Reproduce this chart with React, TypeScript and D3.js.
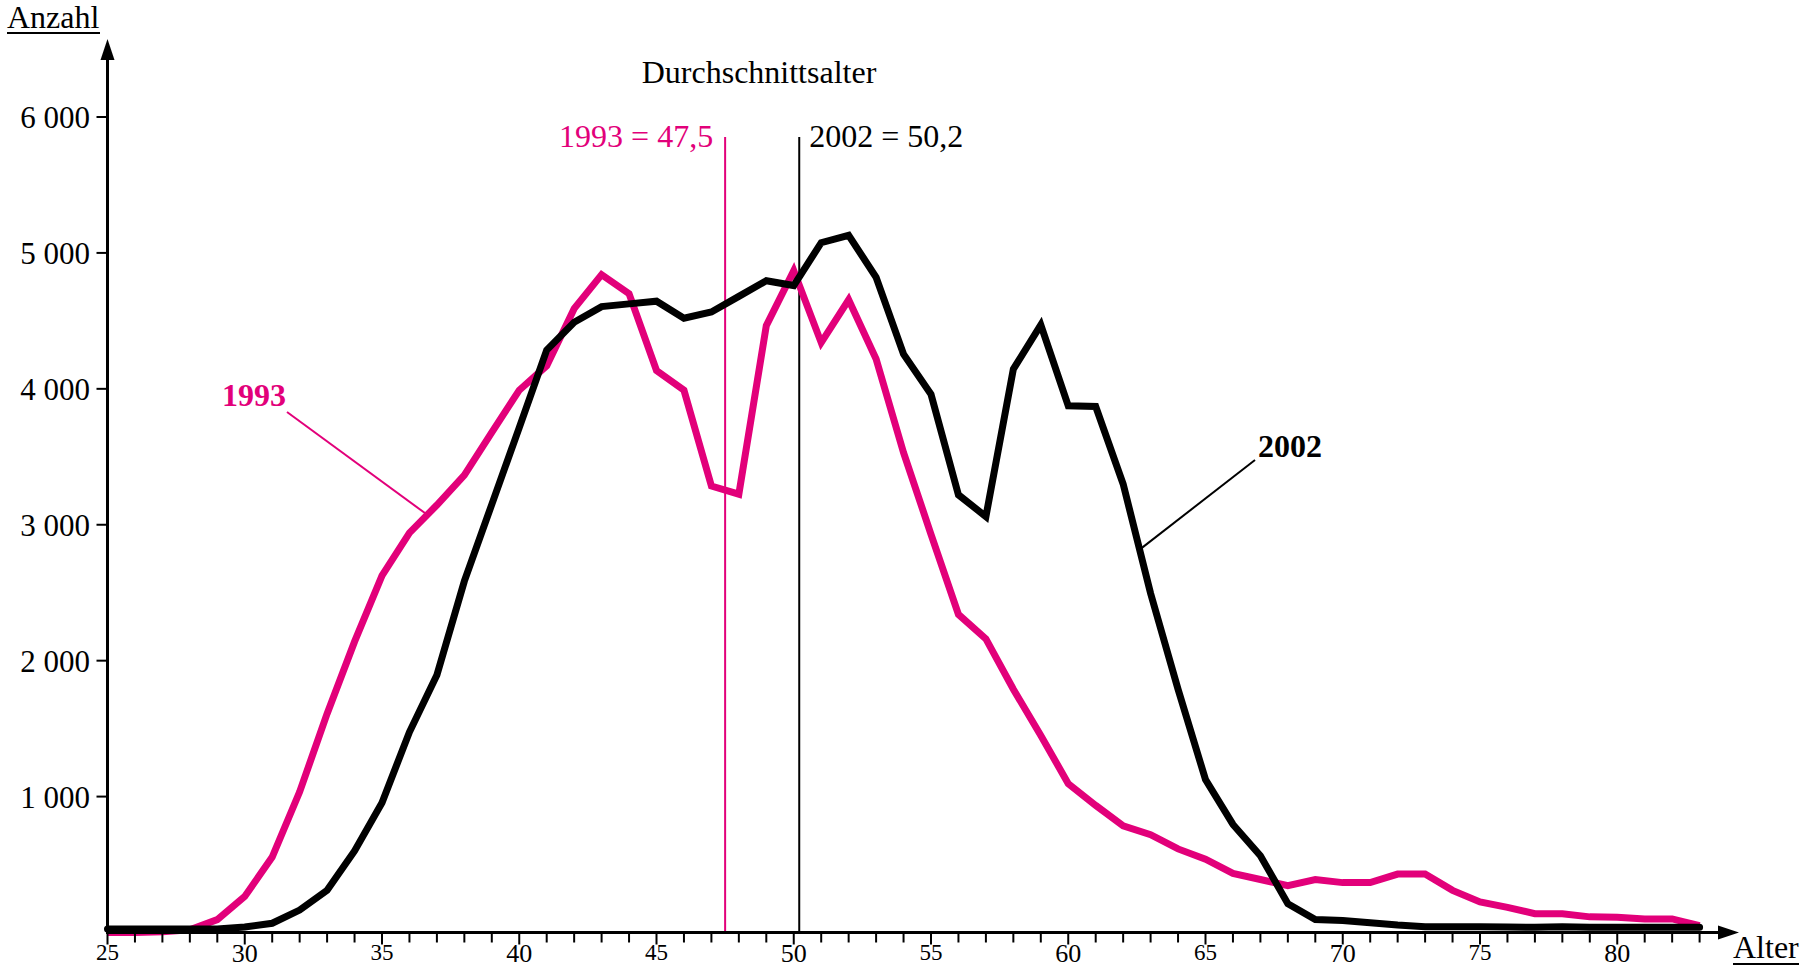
import { useEffect, useRef } from 'react';
import * as d3 from 'd3';

// Alter (x-Achse)
const ages = d3.range(25, 84);

// Anzahl 1993 (pink) und 2002 (schwarz), je Altersjahr 25..83
const values1993 = [
  0, 0, 5, 20, 95, 265, 555, 1035, 1610, 2140,
  2625, 2940, 3145, 3365, 3680, 3990, 4170, 4590, 4840, 4700,
  4135, 3990, 3285, 3225, 4465, 4870, 4340, 4655, 4220, 3530,
  2930, 2340, 2160, 1790, 1450, 1095, 935, 785, 720, 615,
  540, 435, 390, 345, 390, 367, 367, 430, 430, 310,
  225, 185, 138, 138, 115, 112, 100, 100, 50,
];
const values2002 = [
  25, 25, 25, 25, 25, 40, 68, 165, 310, 600,
  955, 1475, 1895, 2585, 3150, 3715, 4285, 4490, 4605, 4625,
  4645, 4520, 4565, 4680, 4795, 4760, 5075, 5130, 4820, 4255,
  3960, 3220, 3060, 4145, 4470, 3875, 3870, 3300, 2495, 1790,
  1125, 795, 565, 212, 95, 88, 72, 55, 43, 43,
  43, 40, 38, 42, 38, 38, 38, 38, 38,
];

const yTicks = [1000, 2000, 3000, 4000, 5000, 6000];
const xLabelTicks = [25, 30, 35, 40, 45, 50, 55, 60, 65, 70, 75, 80];

const avg1993 = 47.5;
const avg2002 = 50.2;

const PINK = '#e2007a';
const FONT = '"Liberation Serif", "Times New Roman", serif';

export default function App() {
  const svgRef = useRef<SVGSVGElement>(null);

  useEffect(() => {
    if (!svgRef.current) return;
    const svg = d3.select(svgRef.current);
    svg.selectAll('*').remove();

    const x = d3.scaleLinear().domain([25, 83]).range([107.5, 1699.6]);
    const y = d3.scaleLinear().domain([0, 6000]).range([932.5, 117]);
    const x0 = x(25);
    const y0 = y(0);

    const g = svg.append('g').attr('font-family', FONT);

    // Durchschnittsalter lines
    g.append('line')
      .attr('x1', x(avg1993)).attr('x2', x(avg1993))
      .attr('y1', 137).attr('y2', y0)
      .attr('stroke', PINK).attr('stroke-width', 2);
    g.append('line')
      .attr('x1', x(avg2002)).attr('x2', x(avg2002))
      .attr('y1', 137).attr('y2', y0)
      .attr('stroke', '#000').attr('stroke-width', 2);

    g.append('text')
      .attr('x', 759).attr('y', 83)
      .attr('text-anchor', 'middle')
      .attr('font-size', 32)
      .text('Durchschnittsalter');
    g.append('text')
      .attr('x', x(avg1993) - 12).attr('y', 147)
      .attr('text-anchor', 'end')
      .attr('font-size', 32)
      .attr('fill', PINK)
      .text('1993 = 47,5');
    g.append('text')
      .attr('x', x(avg2002) + 10).attr('y', 147)
      .attr('font-size', 32)
      .text('2002 = 50,2');

    // series
    const line = d3
      .line<number>()
      .x((_, i) => x(ages[i]))
      .y((d) => y(d));

    g.append('path')
      .attr('d', line(values1993))
      .attr('fill', 'none')
      .attr('stroke', PINK)
      .attr('stroke-width', 7)
      .attr('stroke-linejoin', 'miter')
      .attr('stroke-miterlimit', 2.5);

    g.append('path')
      .attr('d', line(values2002))
      .attr('fill', 'none')
      .attr('stroke', '#000')
      .attr('stroke-width', 7)
      .attr('stroke-linecap', 'round')
      .attr('stroke-linejoin', 'miter')
      .attr('stroke-miterlimit', 2.5);

    // leader labels
    const interp = (vals: number[], age: number) => {
      const i = Math.floor(age) - 25;
      const t = age - Math.floor(age);
      return vals[i] + (vals[i + 1] - vals[i]) * t;
    };
    const a93 = 36.65;
    g.append('line')
      .attr('x1', 287).attr('y1', 412)
      .attr('x2', x(a93)).attr('y2', y(interp(values1993, a93)))
      .attr('stroke', PINK).attr('stroke-width', 2);
    g.append('text')
      .attr('x', 222).attr('y', 406)
      .attr('font-size', 32).attr('font-weight', 'bold')
      .attr('fill', PINK)
      .text('1993');

    const a02 = 62.6;
    g.append('line')
      .attr('x1', 1255).attr('y1', 460)
      .attr('x2', x(a02)).attr('y2', y(interp(values2002, a02)))
      .attr('stroke', '#000').attr('stroke-width', 2);
    g.append('text')
      .attr('x', 1258).attr('y', 457)
      .attr('font-size', 32).attr('font-weight', 'bold')
      .text('2002');

    // y axis
    g.append('line')
      .attr('x1', x0).attr('x2', x0)
      .attr('y1', y0 + 1.5).attr('y2', 56)
      .attr('stroke', '#000').attr('stroke-width', 3);
    g.append('path')
      .attr('d', `M${x0 - 7},60 L${x0},39 L${x0 + 7},60 Z`)
      .attr('fill', '#000');

    g.selectAll('.ytick')
      .data(yTicks)
      .join('line')
      .attr('x1', x0 - 11).attr('x2', x0)
      .attr('y1', (d) => y(d)).attr('y2', (d) => y(d))
      .attr('stroke', '#000').attr('stroke-width', 2);

    g.selectAll('.ylabel')
      .data(yTicks)
      .join('text')
      .attr('x', 90)
      .attr('y', (d) => y(d) + 11)
      .attr('text-anchor', 'end')
      .attr('font-size', 31)
      .text((d) => d3.format(',')(d).replace(',', ' '));

    // x axis
    g.append('line')
      .attr('x1', x0 - 1.5).attr('x2', 1722)
      .attr('y1', y0).attr('y2', y0)
      .attr('stroke', '#000').attr('stroke-width', 3);
    g.append('path')
      .attr('d', `M1718,${y0 - 7} L1739,${y0} L1718,${y0 + 7} Z`)
      .attr('fill', '#000');

    g.selectAll('.xtick')
      .data(ages)
      .join('line')
      .attr('x1', (d) => x(d)).attr('x2', (d) => x(d))
      .attr('y1', y0).attr('y2', (d) => y0 + (d % 5 === 0 ? 12 : 10))
      .attr('stroke', '#000').attr('stroke-width', 2);

    g.selectAll('.xlabel')
      .data(xLabelTicks)
      .join('text')
      .attr('x', (d) => x(d))
      .attr('y', (d) => (d % 10 === 0 ? 962 : 960))
      .attr('text-anchor', 'middle')
      .attr('font-size', (d) => (d % 10 === 0 ? 26 : 23))
      .text((d) => d);

    // axis titles
    g.append('text')
      .attr('x', 7).attr('y', 28)
      .attr('font-size', 32)
      .text('Anzahl');
    g.append('line')
      .attr('x1', 7).attr('x2', 100)
      .attr('y1', 33).attr('y2', 33)
      .attr('stroke', '#000').attr('stroke-width', 2);

    g.append('text')
      .attr('x', 1733).attr('y', 958)
      .attr('font-size', 32)
      .text('Alter');
    g.append('line')
      .attr('x1', 1733).attr('x2', 1799)
      .attr('y1', 964).attr('y2', 964)
      .attr('stroke', '#000').attr('stroke-width', 2);
  }, []);

  return (
    <div style={{ position: 'absolute', left: 0, top: 0, background: '#fff' }}>
      <svg ref={svgRef} width={1801} height={968} style={{ display: 'block' }}></svg>
    </div>
  );
}
